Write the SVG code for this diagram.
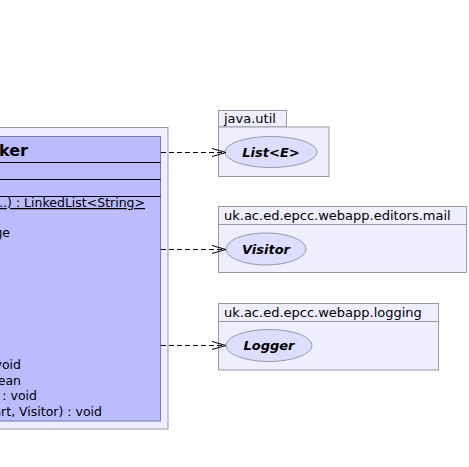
<svg xmlns="http://www.w3.org/2000/svg" width="469" height="467" viewBox="0 0 469 467">
<style>
text{font-family:"DejaVu Sans",sans-serif;font-size:13px;fill:#000}
.body{font-size:12.5px;text-anchor:end}
.pkg{fill:#EEEEFF;stroke:#9999AA;stroke-width:1}
.ell{fill:#DDDDFF;stroke:#9999AA;stroke-width:1}
.lbl{font-weight:bold;font-style:italic;text-anchor:middle}
.conn{stroke:#000;stroke-width:1;fill:none}
.dash{stroke-dasharray:5,3}
.sep{stroke:#000;stroke-width:1}
</style>
<rect width="469" height="467" fill="#FFFFFF"/>
<g id="class-node">
<rect x="-5" y="127.5" width="173" height="301.5" fill="#EEEEFF" stroke="#9999AA"/>
<rect x="-5" y="136.5" width="165.5" height="284.5" fill="#BBBBFF" stroke="#7777AA"/>
<text x="28" y="156" style="font-size:16px;font-weight:bold" text-anchor="end">ker</text>
<line class="sep" x1="-5" y1="162.5" x2="160.5" y2="162.5"/>
<line class="sep" x1="-5" y1="179.5" x2="160.5" y2="179.5"/>
<line class="sep" x1="-5" y1="196.5" x2="160.5" y2="196.5"/>
<text class="body" x="145" y="207" text-decoration="underline">..) : LinkedList&lt;String&gt;</text>
<text class="body" x="10" y="237">ge</text>
<text class="body" x="21" y="369">void</text>
<text class="body" x="21" y="385">ean</text>
<text class="body" x="37" y="400">) : void</text>
<text class="body" x="102" y="416">art, Visitor) : void</text>
</g>
<g id="pkg-java-util">
<rect class="pkg" x="218.5" y="110.5" width="68" height="16.5"/>
<rect class="pkg" x="218.5" y="127" width="110.5" height="49.5"/>
<text x="224" y="123">java.util</text>
<ellipse class="ell" cx="271" cy="152" rx="46" ry="15.5"/>
<text class="lbl" x="271" y="157">List&lt;E&gt;</text>
</g>
<g id="pkg-editors-mail">
<rect class="pkg" x="218.5" y="206.5" width="248" height="18"/>
<rect class="pkg" x="218.5" y="224.5" width="248" height="48"/>
<text x="224" y="220">uk.ac.ed.epcc.webapp.editors.mail</text>
<ellipse class="ell" cx="266" cy="249" rx="40" ry="16"/>
<text class="lbl" x="266" y="254">Visitor</text>
</g>
<g id="pkg-logging">
<rect class="pkg" x="218.5" y="303.5" width="220" height="18"/>
<rect class="pkg" x="218.5" y="321.5" width="220" height="48.5"/>
<text x="224" y="317">uk.ac.ed.epcc.webapp.logging</text>
<ellipse class="ell" cx="269" cy="345.5" rx="43" ry="16"/>
<text class="lbl" x="269" y="350">Logger</text>
</g>
<g id="connectors">
<line class="conn dash" x1="161" y1="152.5" x2="224" y2="152.5"/>
<polyline class="conn" points="212,148.5 226,152.5 212,156.5"/>
<line class="conn dash" x1="161" y1="249.5" x2="224" y2="249.5"/>
<polyline class="conn" points="212,245.5 226,249.5 212,253.5"/>
<line class="conn dash" x1="161" y1="345.5" x2="224" y2="345.5"/>
<polyline class="conn" points="212,341.5 226,345.5 212,349.5"/>
</g>
</svg>
